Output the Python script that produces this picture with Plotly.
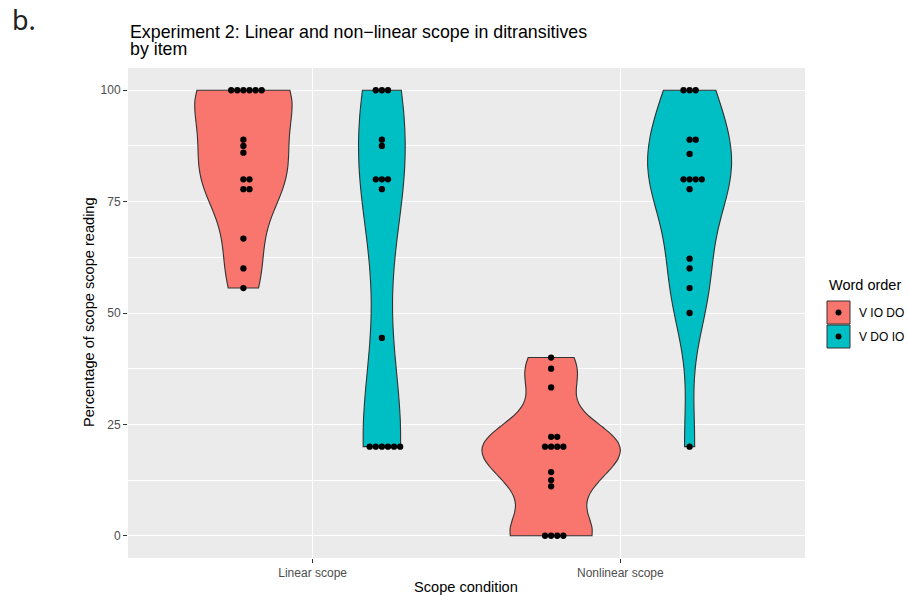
import numpy as np
import plotly.graph_objects as go

# ---------------- data ----------------
conditions = ["Linear scope", "Nonlinear scope"]
word_orders = ["V IO DO", "V DO IO"]
colors = {"V IO DO": "#F8766D", "V DO IO": "#00BFC4"}

linear_vio_do = [100, 100, 100, 100, 100, 100, 88.9, 87.5, 86.0, 80, 80,
                 77.8, 77.8, 66.7, 60, 55.6]
linear_vdo_io = [100, 100, 100, 88.9, 87.5, 80, 80, 80, 77.8, 44.4,
                 20, 20, 20, 20, 20, 20]
nonlinear_vio_do = [40, 37.5, 33.3, 22.2, 22.2, 20, 20, 20, 20, 14.3, 12.5,
                    11.1, 0, 0, 0, 0]
nonlinear_vdo_io = [100, 100, 100, 88.9, 88.9, 85.7, 80, 80, 80, 80, 77.8,
                    62.2, 60, 55.6, 50, 20]

y_ticks = [0, 25, 50, 75, 100]
y_ticklabels = ["0", "25", "50", "75", "100"]

groups = [
    (0, "V IO DO", linear_vio_do),
    (0, "V DO IO", linear_vdo_io),
    (1, "V IO DO", nonlinear_vio_do),
    (1, "V DO IO", nonlinear_vdo_io),
]

# ---------------- layout constants ----------------
W, H = 909, 596
L, R, T, B = 128, 104, 68, 38
PW, PH = W - L - R, H - T - B
DODGE = 0.225       # half of 0.45 dodge width
DOT_STEP = 0.0198   # x-units between stacked dots
FONT = "Liberation Sans, Arial, sans-serif"


def px(x):
    return (x - L) / PW


def py(y):
    return (H - B - y) / PH


def bw_nrd0(v):
    v = np.asarray(v, float)
    hi = np.std(v, ddof=1)
    q1, q3 = np.percentile(v, [25, 75])
    lo = min(hi, (q3 - q1) / 1.34)
    if lo == 0:
        lo = hi if hi > 0 else 1.0
    return 0.9 * lo * len(v) ** (-0.2)


fig = go.Figure()

for ci, wo, vals in groups:
    pos = (ci + 1) + (-DODGE if wo == "V IO DO" else DODGE)
    fig.add_trace(go.Violin(
        x0=pos, y=vals, orientation="v",
        scalegroup="all", scalemode="count", spanmode="hard",
        bandwidth=bw_nrd0(vals), points=False,
        fillcolor=colors[wo], opacity=1,
        line=dict(color="#333333", width=1.1),
        box_visible=False, meanline_visible=False,
        hoveron="violins", showlegend=False, name=f"{conditions[ci]} {wo}",
    ))

# stacked dots (dotplot-like, identical values stacked horizontally)
for ci, wo, vals in groups:
    pos = (ci + 1) + (-DODGE if wo == "V IO DO" else DODGE)
    xs, ys = [], []
    uniq = sorted(set(vals), reverse=True)
    for u in uniq:
        m = vals.count(u)
        for k in range(m):
            off = k - (m - 1) // 2
            xs.append(pos + off * DOT_STEP)
            ys.append(u)
    fig.add_trace(go.Scatter(
        x=xs, y=ys, mode="markers",
        marker=dict(color="black", size=6.3, line=dict(width=0)),
        showlegend=False, hoverinfo="y",
    ))

annotations = [
    dict(text="b.", x=px(10), y=py(20), xanchor="left", yanchor="middle",
         font=dict(family="Noto Sans, sans-serif", size=27, color="#222222")),
    dict(text="Experiment 2: Linear and non\u2212linear scope in ditransitives",
         x=px(128), y=py(31.5), xanchor="left", yanchor="middle",
         font=dict(family=FONT, size=17.8, color="black")),
    dict(text="by item", x=px(128), y=py(49), xanchor="left", yanchor="middle",
         font=dict(family=FONT, size=17.8, color="black")),
    dict(text="Percentage of scope scope reading", x=px(89), y=py(312),
         textangle=-90, xanchor="center", yanchor="middle",
         font=dict(family=FONT, size=14.6, color="black")),
    dict(text="Scope condition", x=px(466), y=py(587), xanchor="center",
         yanchor="middle", font=dict(family=FONT, size=14.6, color="black")),
    dict(text="Word order", x=px(827), y=py(285), xanchor="left",
         yanchor="middle", font=dict(family=FONT, size=14.5, color="black")),
]

shapes = []
key_rows = [(301, 324), (325, 348)]
for (y0, y1), wo in zip(key_rows, word_orders):
    shapes.append(dict(type="rect", xref="paper", yref="paper",
                       x0=px(827), x1=px(850), y0=py(y1), y1=py(y0),
                       fillcolor=colors[wo],
                       line=dict(color="#333333", width=1)))
    cy = (y0 + y1) / 2
    shapes.append(dict(type="circle", xref="paper", yref="paper",
                       x0=px(835.5), x1=px(841.5), y0=py(cy + 3), y1=py(cy - 3),
                       fillcolor="black", line=dict(width=0)))
    annotations.append(dict(text=wo, x=px(857), y=py(cy), xanchor="left",
                            yanchor="middle",
                            font=dict(family=FONT, size=12, color="black")))

for a in annotations:
    a.update(xref="paper", yref="paper", showarrow=False)

fig.update_layout(
    width=W, height=H,
    margin=dict(l=L, r=R, t=T, b=B, pad=0),
    paper_bgcolor="white", plot_bgcolor="#EBEBEB",
    showlegend=False,
    violingap=0, violingroupgap=0, violinmode="overlay",
    annotations=annotations, shapes=shapes,
    xaxis=dict(range=[0.4, 2.6], tickvals=[1, 2], ticktext=conditions,
               showgrid=True, gridcolor="white", gridwidth=1.3,
               zeroline=False, showline=False,
               ticks="outside", ticklen=4, tickcolor="#333333", tickwidth=1,
               tickfont=dict(family=FONT, size=12, color="#4D4D4D")),
    yaxis=dict(range=[-5, 105], tickvals=y_ticks, ticktext=y_ticklabels,
               showgrid=True, gridcolor="white", gridwidth=1.3,
               zeroline=False, showline=False,
               ticks="outside", ticklen=4, tickcolor="#333333", tickwidth=1,
               tickfont=dict(family=FONT, size=12, color="#4D4D4D"),
               minor=dict(dtick=12.5, tick0=0, showgrid=True,
                          gridcolor="white", gridwidth=0.6, ticks="")),
    hovermode="closest",
)

fig.write_html("out.html",
               config={"displayModeBar": False},
               post_script="document.body.style.margin='0px';"
                           "document.body.style.padding='0px';")
